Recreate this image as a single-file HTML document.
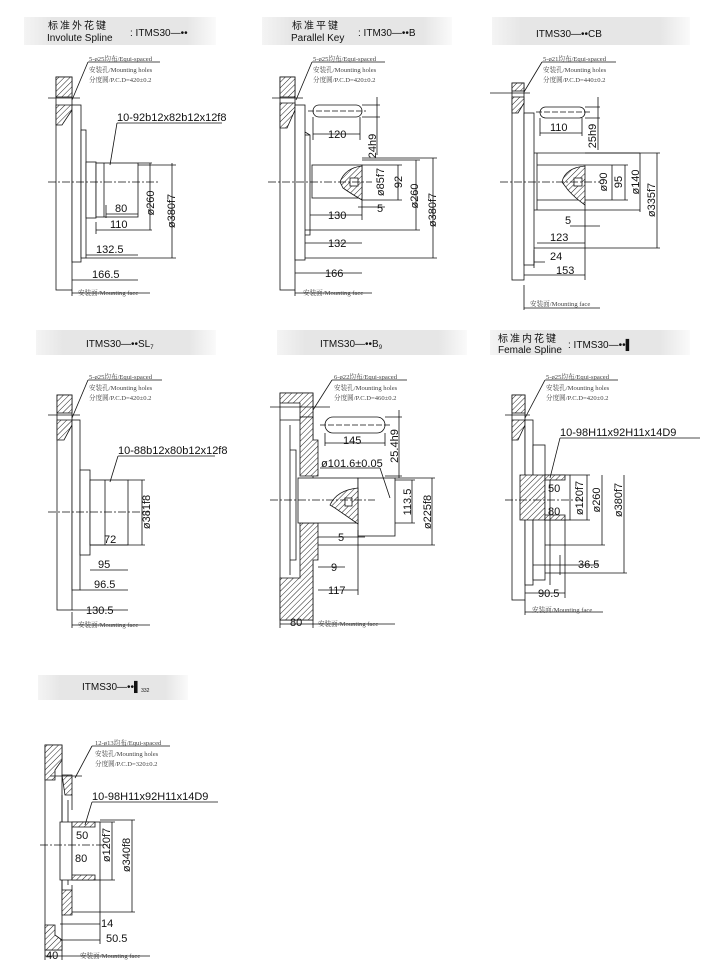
<!DOCTYPE html>
<html><head><meta charset="utf-8"><style>
html,body{margin:0;padding:0;background:#fff;}
svg{display:block;}
.t{font-family:"Liberation Sans","Noto Sans CJK SC",sans-serif;}
.d{font-family:"Liberation Sans",sans-serif;font-size:11px;fill:#111;}
.n{font-family:"Liberation Serif","Noto Serif CJK SC",serif;font-size:6.6px;fill:#444;}
</style></head><body>
<svg width="715" height="977" viewBox="0 0 715 977" xmlns="http://www.w3.org/2000/svg">
<defs>
<linearGradient id="g" x1="0" x2="1" y1="0" y2="0">
<stop offset="0" stop-color="#f4f4f4"/><stop offset="0.15" stop-color="#e6e6e6"/><stop offset="0.85" stop-color="#e6e6e6"/><stop offset="1" stop-color="#fafafa"/></linearGradient>
<pattern id="h" width="4" height="4" patternUnits="userSpaceOnUse" patternTransform="rotate(45)"><rect width="4" height="4" fill="#fff"/><line x1="0" y1="0" x2="0" y2="4" stroke="#222" stroke-width="1"/></pattern>
</defs>
<g fill="url(#g)">
<rect x="24" y="17" width="192" height="28"/><rect x="262" y="17" width="190" height="28"/><rect x="492" y="17" width="198" height="28"/>
<rect x="36" y="330" width="180" height="25"/><rect x="277" y="330" width="190" height="25"/><rect x="490" y="330" width="200" height="25"/>
<rect x="38" y="675" width="150" height="25"/>
</g>
<g class="t" fill="#111">
<text x="48" y="29" font-size="10" letter-spacing="2">标准外花键</text><text x="47" y="41" font-size="10">Involute Spline</text><text x="130" y="36" font-size="10">: ITMS30—••</text>
<text x="292" y="29" font-size="10" letter-spacing="2">标准平键</text><text x="291" y="41" font-size="10">Parallel Key</text><text x="358" y="36" font-size="10">: ITM30—••B</text>
<text x="536" y="37" font-size="10">ITMS30—••CB</text>
<text x="86" y="347" font-size="10">ITMS30—••SL<tspan font-size="6" dy="2">7</tspan></text>
<text x="320" y="347" font-size="10">ITMS30—••B<tspan font-size="6" dy="2">9</tspan></text>
<text x="498" y="342" font-size="10" letter-spacing="2">标准内花键</text><text x="498" y="353" font-size="10">Female Spline</text><text x="568" y="348" font-size="10">: ITMS30—••▌</text>
<text x="82" y="690" font-size="10">ITMS30—••▌<tspan font-size="5" dy="2">332</tspan></text>
</g>
<g stroke="#111" stroke-width="0.8" fill="none">
<rect x="56" y="77" width="16" height="213" fill="#fff"/>
<rect x="56" y="77" width="16" height="20" fill="url(#h)"/><path d="M56 105 H72 V110 L62 125 H56 Z" fill="url(#h)"/>
<line x1="48" y1="98" x2="80" y2="98"/><line x1="72" y1="100" x2="88" y2="62"/><line x1="88" y1="62" x2="160" y2="62"/>
<rect x="72" y="105" width="9" height="157" fill="#fff"/><rect x="81" y="130" width="5" height="128" fill="#fff"/>
<rect x="86" y="162" width="10" height="56" fill="#fff"/><rect x="96" y="163" width="42" height="54" fill="#fff"/>
<line x1="104" y1="163" x2="104" y2="217"/>
<line x1="110" y1="165" x2="117" y2="123"/><line x1="117" y1="123" x2="222" y2="123"/>
<line x1="48" y1="182" x2="160" y2="182" stroke-dasharray="8,2,2,2"/>
<path d="M138 163 H152 M138 230 H152 M150 163 V230 M138 165 H176 M86 258 H176 M172 163 V258"/>
<path d="M106 214 H138 M106 205 V218 M96 230 H138 M96 222 V234 M86 255 H138 M72 280 H138 M72 290 V296 M72 293 H150"/>
<rect x="280" y="77" width="15" height="213" fill="#fff"/>
<rect x="280" y="77" width="15" height="20" fill="url(#h)"/><path d="M280 103 H295 V110 L287 128 H280 Z" fill="url(#h)"/>
<line x1="272" y1="98" x2="303" y2="98"/><line x1="296" y1="100" x2="312" y2="62"/><line x1="312" y1="62" x2="385" y2="62"/>
<rect x="295" y="105" width="10" height="155" fill="#fff"/><line x1="305" y1="135" x2="310" y2="135"/><path d="M305 132 L310 135 V235 H305"/>
<rect x="313" y="105" width="49" height="12" rx="6"/><line x1="308" y1="111" x2="366" y2="111" stroke-dasharray="6,2"/>
<path d="M313 117 V140 M360 117 V140 M313 134 H360 M362 105 H380 M362 117 H380 M377 97 V155"/>
<rect x="312" y="165" width="50" height="33" fill="#fff"/>
<path d="M340 182 Q345 168 362 166 V200 Q350 193 343 188 Z" fill="url(#h)"/><rect x="350" y="178" width="8" height="8" fill="#fff"/>
<line x1="268" y1="182" x2="372" y2="182" stroke-dasharray="8,2,2,2"/>
<path d="M362 165 H402 M362 200 H402 M398 165 V200 M362 160 H420 M305 230 H420 M416 160 V230 M362 158 H437 M305 258 H437 M433 158 V258"/>
<path d="M310 215 H362 M362 200 V220 M358 207 H385 M305 243 H362 M295 273 H362 M295 290 V296 M295 293 H372"/>
<rect x="512" y="83" width="12" height="197" fill="#fff"/>
<rect x="512" y="83" width="12" height="8" fill="url(#h)"/><path d="M512 97 H524 V103 L518 113 H512 Z" fill="url(#h)"/>
<line x1="490" y1="93" x2="530" y2="93"/><line x1="524" y1="92" x2="542" y2="62"/><line x1="542" y1="62" x2="616" y2="62"/>
<rect x="524" y="113" width="10" height="152" fill="#fff"/>
<rect x="540" y="107" width="45" height="11" rx="5.5"/><line x1="536" y1="112" x2="590" y2="112" stroke-dasharray="6,2"/>
<path d="M540 118 V136 M582 118 V136 M540 133 H582 M585 107 H600 M585 118 H600 M598 97 V150"/>
<path d="M534 153 H640 M537 165 H585 M537 200 H585 M537 153 V210 M534 210 H640"/>
<path d="M562 182 Q565 168 585 166 V205 Q575 198 568 190 Z" fill="url(#h)"/><rect x="574" y="178" width="8" height="8" fill="#fff"/>
<line x1="500" y1="182" x2="600" y2="182" stroke-dasharray="8,2,2,2"/>
<path d="M585 165 H628 M585 200 H628 M612 165 V200 M625 165 V200 M640 153 V212 M534 248 H660 M585 153 H660 M657 153 V248"/>
<path d="M585 205 V280 M570 226 H600 M537 243 H585 M534 262 H545 M524 275 H585 M534 250 V268 M524 285 V310 M524 308 H600"/>
<rect x="57" y="395" width="15" height="215" fill="#fff"/>
<rect x="57" y="395" width="15" height="18" fill="url(#h)"/><path d="M57 420 H72 V425 L64 440 H57 Z" fill="url(#h)"/>
<line x1="48" y1="415" x2="80" y2="415"/><line x1="72" y1="418" x2="88" y2="380"/><line x1="88" y1="380" x2="162" y2="380"/>
<rect x="72" y="420" width="8" height="170" fill="#fff"/><rect x="80" y="470" width="10" height="85" fill="#fff"/>
<rect x="90" y="480" width="38" height="65" fill="#fff"/><line x1="105" y1="480" x2="105" y2="545"/>
<line x1="110" y1="482" x2="118" y2="456"/><line x1="118" y1="456" x2="215" y2="456"/>
<line x1="48" y1="512" x2="150" y2="512" stroke-dasharray="8,2,2,2"/>
<path d="M128 480 H145 M128 545 H145 M142 480 V545"/>
<path d="M90 545 H128 M90 570 H128 M80 590 H128 M72 610 H128 M72 612 V628 M72 625 H150"/>
<rect x="280" y="393" width="33" height="227" fill="#fff"/>
<path d="M280 393 H313 V417 H300 V403 H280 Z" fill="url(#h)"/>
<path d="M300 417 H313 V440 L318 440 V476 H300 Z" fill="url(#h)"/><path d="M300 523 H318 V560 H313 V620 H280 V578 H300 Z" fill="url(#h)"/>
<path d="M280 420 H300 M290 425 V575 M290 450 H296 V560 H290"/>
<line x1="270" y1="407" x2="330" y2="407"/><line x1="313" y1="410" x2="332" y2="380"/><line x1="332" y1="380" x2="407" y2="380"/>
<rect x="325" y="417" width="60" height="16" rx="8"/><line x1="320" y1="425" x2="392" y2="425" stroke-dasharray="6,2"/>
<path d="M325 433 V446 M385 433 V446 M325 443 H385 M385 417 H402 M385 476 H402 M399 410 V478"/>
<rect x="298" y="478" width="60" height="45" fill="#fff"/><rect x="358" y="478" width="37" height="58" fill="#fff"/>
<path d="M330 505 Q337 490 358 488 V524 Q345 515 335 508 Z" fill="url(#h)"/><rect x="345" y="498" width="7" height="8" fill="#fff"/>
<line x1="270" y1="500" x2="375" y2="500" stroke-dasharray="8,2,2,2"/>
<path d="M320 468 H380 M380 468 L390 498 M395 480 H415 M395 523 H415 M412 480 V523 M395 478 H435 M318 545 H435 M432 478 V545"/>
<path d="M318 537 H365 M358 530 V545 M318 567 H345 M318 590 H358 M358 536 V595 M280 620 V628 M313 620 V628 M280 624 H313 M313 624 H395"/>
<rect x="512" y="395" width="13" height="205" fill="#fff"/>
<rect x="512" y="395" width="13" height="18" fill="url(#h)"/><path d="M512 420 H525 V425 L518 440 H512 Z" fill="url(#h)"/>
<line x1="505" y1="415" x2="530" y2="415"/><line x1="525" y1="418" x2="545" y2="380"/><line x1="545" y1="380" x2="618" y2="380"/>
<rect x="525" y="420" width="8" height="165" fill="#fff"/><rect x="533" y="445" width="12" height="135" fill="#fff"/>
<path d="M520 475 H545 V520 H520 Z" fill="url(#h)"/><rect x="545" y="475" width="25" height="45" fill="#fff"/>
<path d="M545 475 H565 V480 H545 Z M545 515 H565 V520 H545 Z" fill="url(#h)"/>
<line x1="550" y1="478" x2="560" y2="438"/><line x1="560" y1="438" x2="700" y2="438"/>
<line x1="505" y1="500" x2="585" y2="500" stroke-dasharray="8,2,2,2"/>
<path d="M550 480 V585 M570 475 H590 M570 520 H590 M587 475 V520 M545 545 H605 M602 475 V545 M545 573 H627 M624 475 V573"/>
<path d="M533 565 H598 M560 555 V575 M525 593 H565 M565 520 V598 M525 600 V615 M525 612 H603"/>
<rect x="45" y="745" width="17" height="205" fill="#fff"/>
<path d="M45 745 H62 V760 L55 770 V780 H45 Z" fill="url(#h)"/><path d="M45 925 H55 V935 L62 940 V950 H45 Z" fill="url(#h)"/>
<path d="M62 775 H72 V795 H65 Z" fill="url(#h)"/><path d="M62 890 H72 V915 H62 Z" fill="url(#h)"/>
<line x1="50" y1="776" x2="82" y2="776"/><line x1="75" y1="778" x2="92" y2="746"/><line x1="92" y1="746" x2="170" y2="746"/>
<path d="M62 795 V890 M68 800 V885 M72 795 V810 M72 885 V890"/>
<path d="M60 822 H72 V880 H60 Z" fill="#fff"/><rect x="72" y="822" width="28" height="58" fill="#fff"/>
<path d="M72 822 H95 V827 H72 Z M72 875 H95 V880 H72 Z" fill="url(#h)"/>
<line x1="85" y1="825" x2="92" y2="802"/><line x1="92" y1="802" x2="218" y2="802"/>
<line x1="40" y1="845" x2="110" y2="845" stroke-dasharray="8,2,2,2"/>
<path d="M100 822 H115 M100 880 H115 M112 822 V880 M100 820 H135 M72 912 H135 M132 820 V912"/>
<path d="M60 924 H100 M60 940 H100 M45 950 V960 M62 950 V960 M45 956 H62 M62 956 H150 M100 880 V944"/>
</g>
<g class="d">
<text x="117" y="121">10-92b12x82b12x12f8</text>
<text transform="translate(154,203) rotate(-90)" text-anchor="middle">ø260</text>
<text transform="translate(175,211) rotate(-90)" text-anchor="middle">ø380f7</text>
<text x="115" y="212">80</text><text x="110" y="228">110</text><text x="96" y="253">132.5</text><text x="92" y="278">166.5</text>
<text x="328" y="138">120</text><text transform="translate(376,146) rotate(-90)" text-anchor="middle">24h9</text>
<text transform="translate(384,182) rotate(-90)" text-anchor="middle">ø85f7</text>
<text transform="translate(402,182) rotate(-90)" text-anchor="middle">92</text>
<text transform="translate(418,196) rotate(-90)" text-anchor="middle">ø260</text>
<text transform="translate(436,210) rotate(-90)" text-anchor="middle">ø380f7</text>
<text x="328" y="219">130</text><text x="377" y="212">5</text><text x="328" y="247">132</text><text x="325" y="277">166</text>
<text x="550" y="131">110</text><text transform="translate(596,136) rotate(-90)" text-anchor="middle">25h9</text>
<text transform="translate(607,182) rotate(-90)" text-anchor="middle">ø90</text>
<text transform="translate(622,182) rotate(-90)" text-anchor="middle">95</text>
<text transform="translate(639,182) rotate(-90)" text-anchor="middle">ø140</text>
<text transform="translate(655,200) rotate(-90)" text-anchor="middle">ø335f7</text>
<text x="565" y="224">5</text><text x="550" y="241">123</text><text x="550" y="260">24</text><text x="556" y="274">153</text>
<text x="118" y="454">10-88b12x80b12x12f8</text>
<text transform="translate(150,512) rotate(-90)" text-anchor="middle">ø381f8</text>
<text x="104" y="543">72</text><text x="98" y="568">95</text><text x="94" y="588">96.5</text><text x="86" y="614">130.5</text>
<text x="343" y="444">145</text><text transform="translate(398,446) rotate(-90)" text-anchor="middle">25.4h9</text>
<text x="321" y="467">ø101.6±0.05</text>
<text transform="translate(411,502) rotate(-90)" text-anchor="middle">113.5</text>
<text transform="translate(431,512) rotate(-90)" text-anchor="middle">ø225f8</text>
<text x="338" y="541">5</text><text x="331" y="571">9</text><text x="328" y="594">117</text><text x="290" y="626">80</text>
<text x="560" y="436">10-98H11x92H11x14D9</text>
<text x="548" y="492">50</text><text x="548" y="515">80</text>
<text transform="translate(583,498) rotate(-90)" text-anchor="middle">ø120f7</text>
<text transform="translate(600,500) rotate(-90)" text-anchor="middle">ø260</text>
<text transform="translate(622,500) rotate(-90)" text-anchor="middle">ø380f7</text>
<text x="578" y="568">36.5</text><text x="538" y="597">90.5</text>
<text x="92" y="800">10-98H11x92H11x14D9</text>
<text x="76" y="839">50</text><text x="75" y="862">80</text>
<text transform="translate(110,845) rotate(-90)" text-anchor="middle">ø120f7</text>
<text transform="translate(130,855) rotate(-90)" text-anchor="middle">ø340f8</text>
<text x="101" y="927">14</text><text x="106" y="942">50.5</text><text x="46" y="959">40</text>
</g>
<g class="n">
<text x="89" y="61">5-ø25均布/Equi-spaced</text><text x="89" y="72">安装孔/Mounting holes</text><text x="89" y="82">分度圆/P.C.D=420±0.2</text>
<text x="78" y="295">安装面/Mounting face</text>
<text x="313" y="61">5-ø25均布/Equi-spaced</text><text x="313" y="72">安装孔/Mounting holes</text><text x="313" y="82">分度圆/P.C.D=420±0.2</text>
<text x="303" y="295">安装面/Mounting face</text>
<text x="543" y="61">5-ø21均布/Equi-spaced</text><text x="543" y="72">安装孔/Mounting holes</text><text x="543" y="82">分度圆/P.C.D=440±0.2</text>
<text x="530" y="306">安装面/Mounting face</text>
<text x="89" y="379">5-ø25均布/Equi-spaced</text><text x="89" y="390">安装孔/Mounting holes</text><text x="89" y="400">分度圆/P.C.D=420±0.2</text>
<text x="78" y="627">安装面/Mounting face</text>
<text x="334" y="379">6-ø22均布/Equi-spaced</text><text x="334" y="390">安装孔/Mounting holes</text><text x="334" y="400">分度圆/P.C.D=460±0.2</text>
<text x="318" y="626">安装面/Mounting face</text>
<text x="546" y="379">5-ø25均布/Equi-spaced</text><text x="546" y="390">安装孔/Mounting holes</text><text x="546" y="400">分度圆/P.C.D=420±0.2</text>
<text x="532" y="612">安装面/Mounting face</text>
<text x="95" y="745">12-ø13均布/Equi-spaced</text><text x="95" y="756">安装孔/Mounting holes</text><text x="95" y="766">分度圆/P.C.D=320±0.2</text>
<text x="80" y="958">安装面/Mounting face</text>
</g>
</svg>
</body></html>
